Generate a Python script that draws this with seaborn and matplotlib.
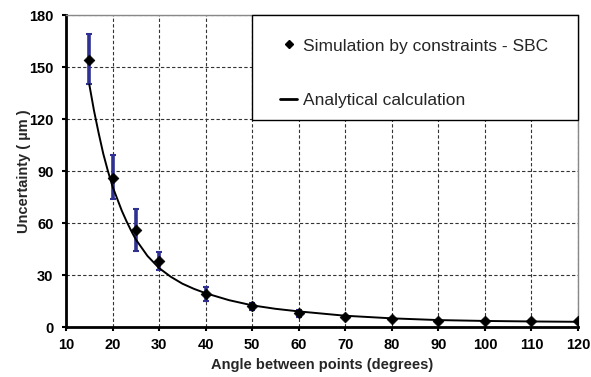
import matplotlib
matplotlib.use("Agg")
import matplotlib.pyplot as plt
import seaborn as sns
import numpy as np
import pandas as pd
from matplotlib.lines import Line2D
from matplotlib.patches import Rectangle

# Simulation points (SBC)
angles = [15, 20, 25, 30, 40, 50, 60, 70, 80, 90, 100, 110, 120]
sim_values = [154, 86, 56, 38, 19, 12, 8, 5.5, 4.5, 3.5, 3.5, 3.5, 3.5]
err_low = [140, 74, 44, 33, 15, 10, 6, 5, 4, 3, 3, 3, 3]
err_high = [169, 99, 68, 43, 23, 14, 10, 6, 5, 4, 4, 4, 4]

# Analytical curve
curve_angles = [15, 16, 17, 18, 19, 20, 21, 22, 23, 24, 25, 27.5, 30, 32.5, 35, 37.5,
                40, 45, 50, 55, 60, 70, 80, 90, 100, 110, 120]
curve_values = [140, 125, 112, 100, 90, 81, 74, 67, 61, 55.5, 50.5, 41, 34, 29, 25, 22,
                19.5, 15.5, 12.5, 10.5, 9, 6.5, 5, 4, 3.5, 3.2, 3]

x_ticks = [10, 20, 30, 40, 50, 60, 70, 80, 90, 100, 110, 120]
y_ticks = [0, 30, 60, 90, 120, 150, 180]

sns.set_style("white")
plt.rcParams['font.family'] = ['Liberation Sans', 'DejaVu Sans']

fig = plt.figure(figsize=(5.91, 3.77), dpi=100)
ax = fig.add_axes([0.1117, 0.1326, 0.8663, 0.8276])

sim_df = pd.DataFrame({"angle": angles, "value": sim_values})
curve_df = pd.DataFrame({"angle": curve_angles, "value": curve_values})

yerr = [np.array(sim_values) - np.array(err_low), np.array(err_high) - np.array(sim_values)]
ax.errorbar(angles, sim_values, yerr=yerr, fmt='none', ecolor='#2E3192',
            elinewidth=2.6, capsize=2.5, capthick=1.5, zorder=3)

sns.lineplot(data=curve_df, x="angle", y="value", ax=ax, color='black', linewidth=1.4,
             legend=False, zorder=4)
sns.scatterplot(data=sim_df, x="angle", y="value", ax=ax, marker='D', color='black',
                s=30, edgecolor='black', linewidth=0.5, legend=False, zorder=5)

ax.set_xlim(10, 120)
ax.set_ylim(0, 180)
ax.set_xticks(x_ticks)
ax.set_yticks(y_ticks)
ax.tick_params(axis='both', labelsize=10.5, length=3, width=1.5, direction='out', colors='black')
ax.tick_params(axis='x', bottom=True, pad=5)
ax.tick_params(axis='y', left=True, pad=6)
for lab in ax.get_xticklabels() + ax.get_yticklabels():
    lab.set_fontweight('bold')

ax.grid(True, which='major', linestyle=(0, (3, 2)), color='#333333', linewidth=0.8)
ax.set_axisbelow(True)

for side in ['top', 'right']:
    ax.spines[side].set_color('#888888')
    ax.spines[side].set_linewidth(1.0)
for side in ['left', 'bottom']:
    ax.spines[side].set_color('black')
    ax.spines[side].set_linewidth(2.0)

ax.set_xlabel("Angle between points (degrees)", fontsize=10.5, fontweight='bold', labelpad=4)
ax.set_ylabel("Uncertainty ( µm )", fontsize=10.5, fontweight='bold', labelpad=-1)

# legend box
frame = Rectangle((0.363, 0.663), 0.637, 0.337, transform=ax.transAxes, facecolor='white',
                  edgecolor='black', linewidth=1.0, zorder=6, clip_on=False)
ax.add_patch(frame)
h_sim = Line2D([], [], marker='D', color='black', linestyle='none', markersize=4.5)
h_line = Line2D([], [], color='black', linewidth=2)
leg = ax.legend([h_sim, h_line], ["Simulation by constraints - SBC", "Analytical calculation"],
                loc='upper left', bbox_to_anchor=(0.418, 0.925), borderaxespad=0,
                frameon=False, fontsize=12.5, labelspacing=2.25,
                borderpad=0, handlelength=1.0, handletextpad=0.3)
leg.set_zorder(7)

fig.savefig("out.png", dpi=100)
